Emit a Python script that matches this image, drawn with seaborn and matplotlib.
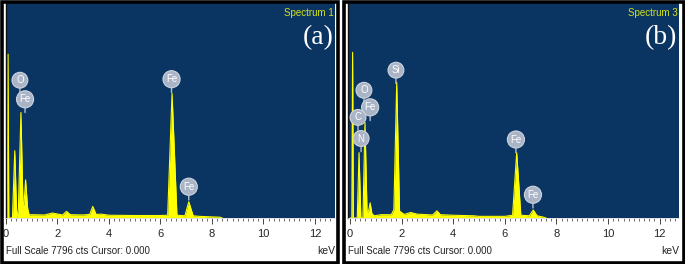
import matplotlib
matplotlib.use('Agg')
import matplotlib.pyplot as plt
import seaborn as sns
from matplotlib.patches import Rectangle
from matplotlib.ticker import MultipleLocator

# spectrum (a): energy in keV, counts
energy_a = [0.00, 0.05, 0.08, 0.11, 0.25, 0.34, 0.42, 0.48, 0.58, 0.66, 0.70, 0.76,
            0.84, 0.90, 1.00, 1.50, 1.80, 2.20, 2.35, 2.50, 3.00, 3.25, 3.37, 3.50,
            3.70, 4.00, 5.00, 6.00, 6.28, 6.45, 6.64, 6.95, 7.10, 7.27, 7.50, 8.00,
            8.30, 8.40]
counts_a = [0, 0, 5940, 0, 0, 2440, 0, 300, 3825, 450, 500, 1385,
            350, 110, 120, 110, 180, 110, 240, 120, 110, 130, 420, 130,
            140, 100, 90, 90, 100, 4520, 100, 80, 590, 80, 60, 40,
            30, 0]

# spectrum (b)
energy_b = [0.00, 0.07, 0.10, 0.13, 0.28, 0.35, 0.42, 0.50, 0.58, 0.66, 0.72, 0.78,
            0.85, 0.95, 1.20, 1.60, 1.70, 1.81, 1.92, 2.10, 2.35, 2.60, 3.20, 3.37,
            3.50, 4.00, 4.80, 5.00, 6.00, 6.30, 6.46, 6.62, 6.95, 7.10, 7.25, 7.50,
            7.60]
counts_b = [0, 0, 6010, 0, 0, 2370, 0, 0, 3460, 200, 250, 550,
            150, 80, 120, 120, 300, 4920, 250, 130, 200, 140, 110, 260,
            120, 100, 80, 60, 60, 100, 2370, 100, 80, 290, 80, 30,
            0]

# element markers: label, energy, counts at stem tip
labels_a = ['O', 'Fe', 'Fe', 'Fe']
label_e_a = [0.54, 0.74, 6.43, 7.10]
label_c_a = [4517, 3825, 4554, 656]

labels_b = ['Si', 'O', 'Fe', 'C', 'N', 'Fe', 'Fe']
label_e_b = [1.78, 0.54, 0.78, 0.31, 0.43, 6.43, 7.09]
label_c_b = [4882, 4153, 3534, 3169, 2404, 2368, 364]

full_scale = 7796
spectra = ['Spectrum 1', 'Spectrum 3']
panels = ['(a)', '(b)']

sns.set_style('white')
plt.rcParams['font.family'] = ['Liberation Sans', 'DejaVu Sans']
narrow = ['Liberation Sans Narrow', 'Liberation Sans']

W, H = 685, 264
fig = plt.figure(figsize=(W / 100, H / 100), dpi=100)
fig.patch.set_facecolor('white')


def fx(px):
    return px / W


def fy(py):
    return 1 - py / H


blue = '#0a3462'
yellow = '#ffff00'

# panel geometry in pixels: border box, plot box, xlim
geo = [
    dict(border=(1.5, 1.5, 338, 262.5), plot=(6, 3, 335, 218), xlim=(0, 12.78)),
    dict(border=(343.5, 1.5, 684, 262.5), plot=(348, 3, 679, 218), xlim=(-0.078, 12.75)),
]
data = [
    (energy_a, counts_a, labels_a, label_e_a, label_c_a),
    (energy_b, counts_b, labels_b, label_e_b, label_c_b),
]

for i, g in enumerate(geo):
    bx0, by0, bx1, by1 = g['border']
    fig.add_artist(Rectangle((fx(bx0), fy(by1)), fx(bx1 - bx0), (by1 - by0) / H,
                             transform=fig.transFigure, fill=False,
                             ec='black', lw=2.6, zorder=10))
    px0, py0, px1, py1 = g['plot']
    ax = fig.add_axes([fx(px0), fy(py1), fx(px1 - px0), (py1 - py0) / H])
    ax.set_facecolor(blue)
    energy, counts, labs, le, lc = data[i]
    sns.lineplot(x=energy, y=counts, ax=ax, color=yellow, lw=0.8,
                 estimator=None, sort=False)
    ax.fill_between(energy, counts, color=yellow, lw=0)
    ax.set_xlim(*g['xlim'])
    ax.set_ylim(0, full_scale)
    ax.set_yticks([])
    ax.xaxis.set_major_locator(MultipleLocator(2))
    ax.xaxis.set_minor_locator(MultipleLocator(0.2))
    ax.tick_params(axis='x', which='major', direction='out', length=4, width=0.7,
                   color='#444444', labelsize=8, pad=4, bottom=True)
    ax.tick_params(axis='x', which='minor', direction='out', length=2.2, width=0.6,
                   color='#555555', bottom=True)
    for s in ['top', 'right']:
        ax.spines[s].set_visible(False)
    ax.spines['left'].set_color('#111111')
    ax.spines['left'].set_linewidth(1.0)
    ax.spines['bottom'].set_color('#dddddd')
    ax.spines['bottom'].set_linewidth(0.6)

    for lab, e, c in zip(labs, le, lc):
        ax.annotate(lab, xy=(e, c), xytext=(0, 9.5), textcoords='offset points',
                    ha='center', va='center', color='white', fontsize=7,
                    bbox=dict(boxstyle='circle,pad=0.3', fc='#a9b4c6',
                              ec='#cfd5df', lw=0.8),
                    arrowprops=dict(arrowstyle='-', color='#b8c0cc', lw=1.0,
                                    shrinkA=0, shrinkB=0))

    ax.text(0.995, 0.975, spectra[i], transform=ax.transAxes, ha='right', va='top',
            color='#d4e41a', fontsize=7, family=narrow)
    ax.text(0.995, 0.84, panels[i], transform=ax.transAxes, ha='right', va='center',
            color='white', fontsize=20, family=['Liberation Serif', 'DejaVu Serif'])

    fig.text(fx(px0), fy(251), 'Full Scale 7796 cts Cursor: 0.000', ha='left',
             va='center', fontsize=7, color='#222222', family=narrow)
    fig.text(fx(px1), fy(251), 'keV', ha='right', va='center', fontsize=7.5,
             color='#222222', family=narrow)

fig.savefig('out.png', dpi=100)
